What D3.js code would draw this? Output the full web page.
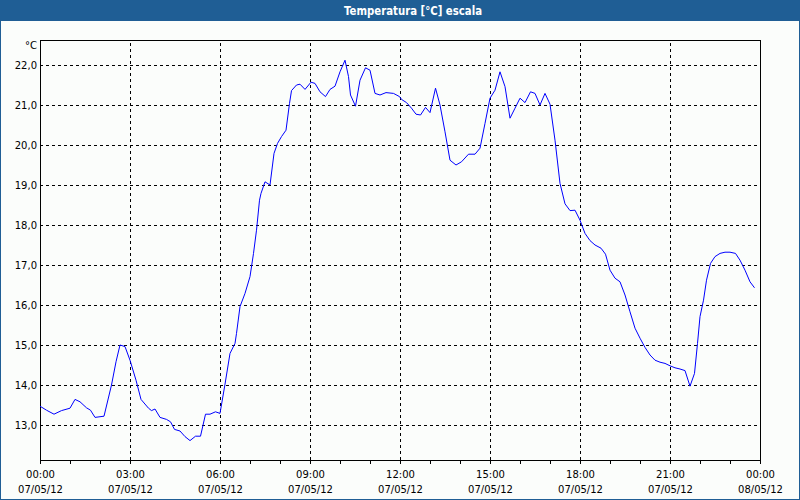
<!DOCTYPE html>
<html>
<head>
<meta charset="utf-8">
<script src="https://cdn.jsdelivr.net/npm/d3@7"></script>
<style>
  html, body { margin: 0; padding: 0; background: #fbfdfb; }
  svg { display: block; }
  text { font-family: "DejaVu Sans", Verdana, sans-serif; }
</style>
</head>
<body>
<svg id="chart" width="800" height="500"></svg>
<script>
// ---- data (minutes since 00:00 on 07/05/12, temperature in °C) ----
const minutes = [0, 13, 28, 43, 60, 70, 80, 93, 101, 110, 128, 143, 152, 160, 170, 180, 192, 202, 217, 223,
  230, 240, 253, 261, 269, 280, 290, 300, 311, 321, 331, 340, 351, 360, 370, 380, 390, 393, 400, 410,
  420, 427, 433, 439, 442, 450, 460, 468, 475, 483, 492, 499, 503, 513, 520, 530, 542, 550, 560, 571,
  580, 590, 600, 610, 617, 621, 631, 640, 651, 660, 670, 680, 692, 707, 719, 723, 733, 743, 752, 761,
  771, 780, 791, 800, 810, 820, 832, 843, 857, 870, 880, 890, 900, 910, 920, 930, 940, 950, 960, 970,
  981, 990, 1000, 1010, 1020, 1030, 1040, 1050, 1060, 1070, 1080, 1090, 1100, 1110, 1122, 1131, 1140, 1150, 1160, 1170,
  1180, 1190, 1200, 1210, 1220, 1230, 1240, 1250, 1260, 1270, 1280, 1290, 1300, 1309, 1315, 1320, 1327, 1333, 1341, 1350,
  1360, 1370, 1380, 1391, 1400, 1410, 1420, 1429];
const temps = [13.47, 13.37, 13.27, 13.36, 13.42, 13.64, 13.58, 13.43, 13.37, 13.19, 13.22, 14.0, 14.58, 15.0, 14.96, 14.62, 14.12, 13.64, 13.42, 13.36,
  13.40, 13.19, 13.14, 13.08, 12.89, 12.85, 12.71, 12.61, 12.72, 12.72, 13.27, 13.27, 13.33, 13.29, 14.02, 14.79, 15.04, 15.29, 15.96, 16.29,
  16.71, 17.29, 17.87, 18.62, 18.79, 19.08, 19.0, 19.79, 20.04, 20.21, 20.37, 21.04, 21.36, 21.5, 21.52, 21.39, 21.57, 21.54, 21.33, 21.21,
  21.39, 21.47, 21.83, 22.12, 21.71, 21.25, 20.97, 21.62, 21.93, 21.87, 21.29, 21.25, 21.31, 21.29, 21.21, 21.14, 21.06, 20.92, 20.77, 20.75,
  20.94, 20.81, 21.42, 21.0, 20.33, 19.62, 19.5, 19.58, 19.77, 19.77, 19.92, 20.54, 21.17, 21.37, 21.83, 21.46, 20.67, 20.92, 21.17, 21.06,
  21.33, 21.29, 21.0, 21.29, 21.02, 20.12, 19.04, 18.53, 18.36, 18.37, 18.12, 17.79, 17.61, 17.5, 17.42, 17.27, 16.87, 16.67, 16.58, 16.25,
  15.83, 15.42, 15.17, 14.94, 14.75, 14.62, 14.57, 14.54, 14.48, 14.43, 14.40, 14.36, 13.97, 14.29, 15.04, 15.71, 16.12, 16.62, 17.04, 17.21,
  17.29, 17.32, 17.32, 17.29, 17.12, 16.87, 16.58, 16.43];

const xLabelMinutes = [0, 180, 360, 540, 720, 900, 1080, 1260, 1440];
const xTimeLabels = ["00:00", "03:00", "06:00", "09:00", "12:00", "15:00", "18:00", "21:00", "00:00"];
const xDateLabels = ["07/05/12", "07/05/12", "07/05/12", "07/05/12", "07/05/12", "07/05/12", "07/05/12", "07/05/12", "08/05/12"];
const yTicks = [13, 14, 15, 16, 17, 18, 19, 20, 21, 22];
const titleText = "Temperatura [°C] escala";
const unitText = "°C";

// ---- layout ----
const W = 800, H = 500;
const L = 40, R = 760, T = 40, B = 460;
const svg = d3.select("#chart");

const x = d3.scaleLinear().domain([0, 1440]).range([L, R]);
const y = d3.scaleLinear().domain([12.125, 22.625]).range([B, T]);

// background & frame
svg.append("rect").attr("x", 0).attr("y", 0).attr("width", W).attr("height", H).attr("fill", "#fbfdfb");
svg.append("rect").attr("x", 0.5).attr("y", 0.5).attr("width", W - 1).attr("height", H - 1)
  .attr("fill", "none").attr("stroke", "#1f5e95").attr("stroke-width", 1);
svg.append("rect").attr("x", 0).attr("y", 0).attr("width", W).attr("height", 21).attr("fill", "#1f5e95");
svg.append("text").attr("x", 413).attr("y", 14.5).attr("text-anchor", "middle")
  .attr("fill", "#ffffff").attr("font-weight", "bold").attr("font-size", "11.5px")
  .attr("textLength", 138).attr("lengthAdjust", "spacingAndGlyphs")
  .text(titleText);

// horizontal grid
const gy = svg.append("g").attr("transform", `translate(${L},0)`)
  .call(d3.axisLeft(y).tickValues(yTicks).tickSize(-(R - L)).tickFormat(""));
gy.select(".domain").remove();
gy.selectAll(".tick line").attr("stroke", "#000").attr("stroke-dasharray", "3,3")
  .attr("shape-rendering", "crispEdges");

// vertical grid
const gx = svg.append("g").attr("transform", `translate(0,${B})`)
  .call(d3.axisBottom(x).tickValues(xLabelMinutes.slice(1, -1)).tickSize(-(B - T)).tickFormat(""));
gx.select(".domain").remove();
gx.selectAll(".tick line").attr("stroke", "#000").attr("stroke-dasharray", "3,3")
  .attr("shape-rendering", "crispEdges");

// hourly ticks
const gt = svg.append("g").attr("transform", `translate(0,${B})`)
  .call(d3.axisBottom(x).tickValues(d3.range(0, 1441, 60)).tickSize(4).tickFormat(""));
gt.select(".domain").remove();
gt.selectAll(".tick line").attr("stroke", "#000").attr("shape-rendering", "crispEdges");

// plot frame
svg.append("rect").attr("x", L + 0.5).attr("y", T + 0.5).attr("width", R - L).attr("height", B - T)
  .attr("fill", "none").attr("stroke", "#000").attr("stroke-width", 1).attr("shape-rendering", "crispEdges");

// y labels
const fmt = d => d3.format(".1f")(d).replace(".", ",");
svg.append("g").selectAll("text").data(yTicks).join("text")
  .attr("x", 37).attr("y", d => y(d)).attr("dy", "0.36em").attr("text-anchor", "end")
  .attr("font-size", "10px").attr("fill", "#000").text(fmt);
svg.append("text").attr("x", 37).attr("y", 49).attr("text-anchor", "end")
  .attr("font-size", "10px").attr("fill", "#000").text(unitText);

// x labels
const xl = svg.append("g").selectAll("g").data(xLabelMinutes).join("g");
xl.append("text").attr("x", d => x(d) + 0.5).attr("y", 478).attr("text-anchor", "middle")
  .attr("font-size", "10px").attr("fill", "#000").text((d, i) => xTimeLabels[i]);
xl.append("text").attr("x", d => x(d) + 0.5).attr("y", 493).attr("text-anchor", "middle")
  .attr("font-size", "10px").attr("fill", "#000").text((d, i) => xDateLabels[i]);

// temperature line
const data = minutes.map((m, i) => ({ m, t: temps[i] }));
svg.append("path").datum(data)
  .attr("fill", "none").attr("stroke", "#0000ff").attr("stroke-width", 1)
  .attr("d", d3.line().x(d => x(d.m)).y(d => y(d.t)));
</script>
</body>
</html>
